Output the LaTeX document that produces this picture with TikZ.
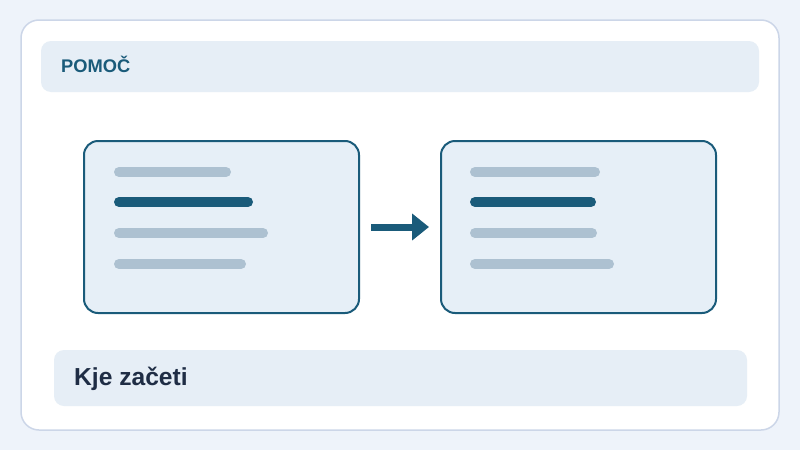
\documentclass[tikz,border=0pt]{standalone}
\usepackage{fontspec}
\setmainfont{Liberation Sans}
\usetikzlibrary{arrows.meta}
\definecolor{pagebg}{HTML}{EEF3FA}
\definecolor{cardedge}{HTML}{CCD6E8}
\definecolor{barfill}{HTML}{E6EEF6}
\definecolor{panelfill}{HTML}{E6EFF7}
\definecolor{deepblue}{HTML}{1A5B7A}
\definecolor{softline}{HTML}{ADC1D1}
\definecolor{navy}{HTML}{1F2D45}
\tikzset{
    bar/.style={fill=barfill, rounded corners=10pt, inner sep=0pt},
    panel/.style={draw=deepblue, line width=2pt, fill=panelfill, rounded corners=14pt,
        minimum width=275pt, minimum height=172pt, inner sep=0pt},
    textline/.style={line width=10pt, line cap=round},
    flow/.style={-{Triangle[length=17pt,width=26pt]}, line width=7pt, deepblue,
        shorten <=11pt, shorten >=11pt}
}
\begin{document}
\begin{tikzpicture}[x=1pt,y=-1pt]
        % page and card
            \useasboundingbox (0,0) rectangle (800,450);
            \fill[pagebg] (0,0) rectangle (800,450);
            \draw[cardedge, line width=1.5pt, fill=white, rounded corners=18pt] (21,20) rectangle (779,430);
        % header and footer
            \node[bar, minimum width=718pt, minimum height=51pt] (head) at (400,66.5) {};
            \node[anchor=west, inner sep=0pt, text=deepblue, font=\bfseries\fontsize{18.3}{20}\selectfont] (title) at (61,64) {POMOČ};
            \node[bar, minimum width=693pt, minimum height=56pt] (foot) at (400.5,378) {};
            \node[anchor=west, inner sep=0pt, text=navy, font=\bfseries\fontsize{24.6}{28}\selectfont] (start) at (74,379) {Kje začeti};
        % panels
            \node[panel] (before) at (221.5,227) {};
            \node[panel] (after) at (578.5,227) {};
        % lines
            \foreach \y/\e/\c in {172/226/softline,202/248/deepblue,233/263/softline,264/241/softline}{
                \draw[textline, \c] (119,\y) -- (\e,\y);
            }
            \foreach \y/\e/\c in {172/595/softline,202/591/deepblue,233/592/softline,264/609/softline}{
                \draw[textline, \c] (475,\y) -- (\e,\y);
            }
        % arrow
            \draw[flow] (before) -- (after);
        \end{tikzpicture}
\end{document}
